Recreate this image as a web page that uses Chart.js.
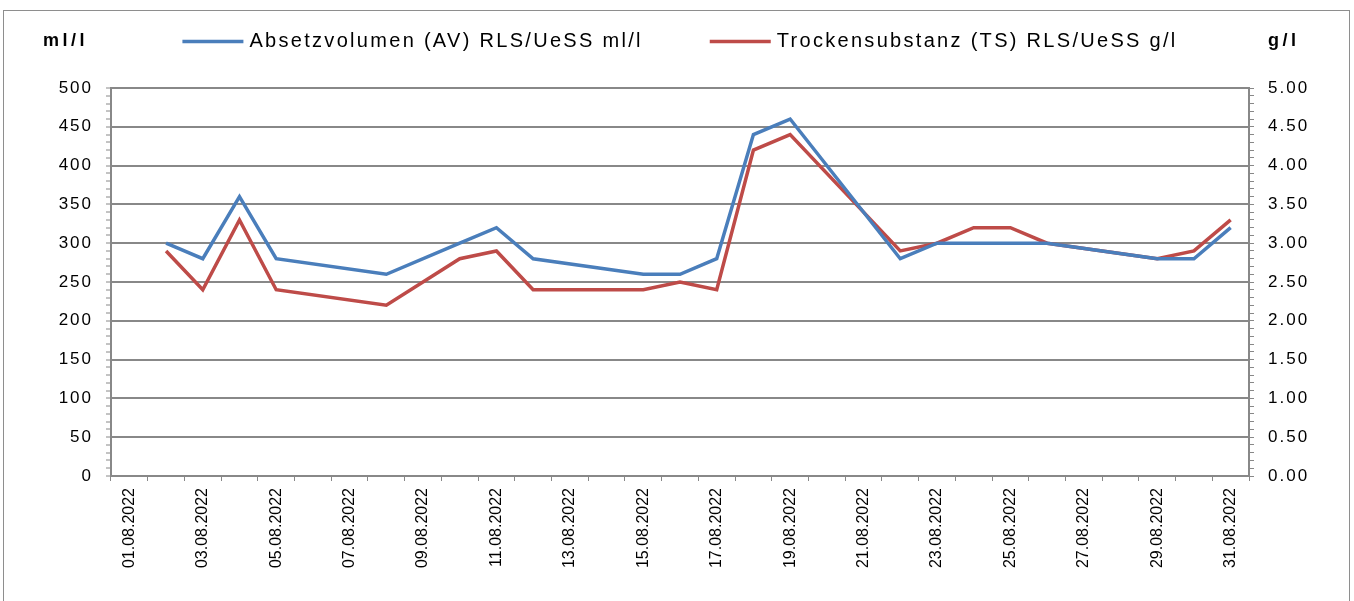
<!DOCTYPE html>
<html>
<head>
<meta charset="utf-8">
<script src="https://cdn.jsdelivr.net/npm/chart.js@4.4.1/dist/chart.umd.min.js"></script>
<style>
  html, body { margin: 0; padding: 0; background: #fff; overflow: hidden; }
  #wrap { position: absolute; left: 0; top: 0; width: 1354px; height: 601px; }
  #frame { position: absolute; left: 3px; top: 10px; width: 1345px; height: 620px;
           border: 1px solid #8e8e8e; pointer-events: none; }
</style>
</head>
<body>
<div id="wrap"><canvas id="chart" width="1354" height="601"></canvas></div>
<div id="frame"></div>
<script>
/* -------------------------
   DATA
------------------------- */
const days = [
  "01.08.2022", "02.08.2022", "03.08.2022", "04.08.2022", "05.08.2022", "06.08.2022",
  "07.08.2022", "08.08.2022", "09.08.2022", "10.08.2022", "11.08.2022", "12.08.2022",
  "13.08.2022", "14.08.2022", "15.08.2022", "16.08.2022", "17.08.2022", "18.08.2022",
  "19.08.2022", "20.08.2022", "21.08.2022", "22.08.2022", "23.08.2022", "24.08.2022",
  "25.08.2022", "26.08.2022", "27.08.2022", "28.08.2022", "29.08.2022", "30.08.2022",
  "31.08.2022"
];

// Absetzvolumen ml/l (left axis)
const avValues = [
  null, 300, 280, 360, 280, null, null, 260, null, 300, 320, 280,
  null, null, 260, 260, 280, 440, 460, null, null, 280, 300, 300,
  300, 300, null, null, 280, 280, 320
];

// Trockensubstanz g/l (right axis)
const tsValues = [
  null, 2.9, 2.4, 3.3, 2.4, null, null, 2.2, null, 2.8, 2.9, 2.4,
  null, null, 2.4, 2.5, 2.4, 4.2, 4.4, null, null, 2.9, 3.0, 3.2,
  3.2, 3.0, null, null, 2.8, 2.9, 3.3
];

const avLabel = "Absetzvolumen (AV) RLS/UeSS ml/l";
const tsLabel = "Trockensubstanz (TS) RLS/UeSS g/l";
const leftUnit = "ml/l";
const rightUnit = "g/l";

/* -------------------------
   STYLE
------------------------- */
const FONT = "'Liberation Sans', Arial, sans-serif";
const GRID = "#888888";
const BLUE = "#4a7ebb";
const RED = "#be4b48";

/* -------------------------
   LEGEND + UNIT TITLES (top row)
------------------------- */
const topRow = {
  id: "topRow",
  beforeDraw(chart) {
    // Excel draws horizontal text wide: a bit of letter spacing on the y tick labels
    ["y", "y1"].forEach(id => {
      const s = chart.scales[id];
      if (s._spaced) return;
      const orig = s.drawLabels.bind(s);
      s.drawLabels = function (area) {
        const c = this.ctx;
        c.save();
        c.letterSpacing = "2px";
        orig(area);
        c.restore();
      };
      s._spaced = true;
    });
  },
  afterDraw(chart) {
    const ctx = chart.ctx;
    const area = chart.chartArea;
    const rowY = 41.5;
    ctx.save();
    ctx.fillStyle = "#000";
    ctx.textBaseline = "middle";
    ctx.textAlign = "left";

    // unit titles
    ctx.letterSpacing = "3.5px";
    ctx.font = "bold 18px " + FONT;
    ctx.fillText(leftUnit, chart.scales.y.left + 3, rowY);
    ctx.fillText(rightUnit, chart.scales.y1.left + 19, rowY);

    // legend
    ctx.letterSpacing = "2.3px";
    ctx.font = "20px " + FONT;
    const lineW = 61, gap = 6, itemGap = 67;
    const sets = chart.data.datasets;
    const widths = sets.map(ds => lineW + gap + ctx.measureText(ds.label).width);
    const total = widths.reduce((a, b) => a + b, 0) + itemGap * (sets.length - 1);
    let x = (area.left + area.right) / 2 - total / 2;
    sets.forEach((ds, i) => {
      ctx.strokeStyle = ds.borderColor;
      ctx.lineWidth = 3.5;
      ctx.beginPath();
      ctx.moveTo(x, rowY);
      ctx.lineTo(x + lineW, rowY);
      ctx.stroke();
      ctx.fillText(ds.label, x + lineW + gap, rowY);
      x += widths[i] + itemGap;
    });
    ctx.restore();
  }
};

/* -------------------------
   CHART
------------------------- */
new Chart(document.getElementById("chart"), {
  type: "line",
  data: {
    labels: days,
    datasets: [
      {
        label: avLabel,
        data: avValues,
        yAxisID: "y",
        borderColor: BLUE,
        backgroundColor: BLUE,
        borderWidth: 3.5,
        pointRadius: 0,
        tension: 0,
        spanGaps: true
      },
      {
        label: tsLabel,
        data: tsValues,
        yAxisID: "y1",
        borderColor: RED,
        backgroundColor: RED,
        borderWidth: 3.5,
        pointRadius: 0,
        tension: 0,
        spanGaps: true
      }
    ]
  },
  options: {
    responsive: false,
    animation: false,
    layout: { padding: { top: 88, left: 40, right: 25, bottom: 0 } },
    plugins: {
      tooltip: { enabled: false },
      legend: { display: false }
    },
    scales: {
      x: {
        offset: true,
        afterFit: s => { s.height = 125; },
        grid: { offset: true, drawOnChartArea: false, tickLength: 5, color: GRID, lineWidth: 1 },
        border: { color: GRID, width: 2 },
        ticks: {
          autoSkip: false,
          maxRotation: 90,
          minRotation: 90,
          padding: 7,
          color: "#000",
          font: { family: FONT, size: 16 },
          callback(val, idx) { return idx % 2 === 0 ? this.getLabelForValue(val) : ""; }
        }
      },
      y: {
        position: "left",
        min: 0,
        max: 500,
        afterFit: s => { s.width = 71; },
        grid: {
          color: c => (c.tick && c.tick.value % 50 === 0) ? GRID : "transparent",
          lineWidth: 2,
          tickColor: GRID,
          tickWidth: 1,
          tickLength: 5
        },
        border: { color: GRID, width: 2 },
        ticks: {
          stepSize: 10,
          autoSkip: false,
          padding: 13,
          color: "#000",
          font: { family: FONT, size: 17 },
          callback: v => (v % 50 === 0 ? String(v) : "")
        }
      },
      y1: {
        position: "right",
        min: 0,
        max: 5,
        afterFit: s => { s.width = 80; },
        grid: { drawOnChartArea: false, tickColor: GRID, tickWidth: 1, tickLength: 5 },
        border: { color: GRID, width: 2 },
        ticks: {
          stepSize: 0.1,
          autoSkip: false,
          padding: 14,
          color: "#000",
          font: { family: FONT, size: 17 },
          callback: v => (Math.round(v * 10) % 5 === 0 ? v.toFixed(2) : "")
        }
      }
    }
  },
  plugins: [topRow]
});
</script>
</body>
</html>
